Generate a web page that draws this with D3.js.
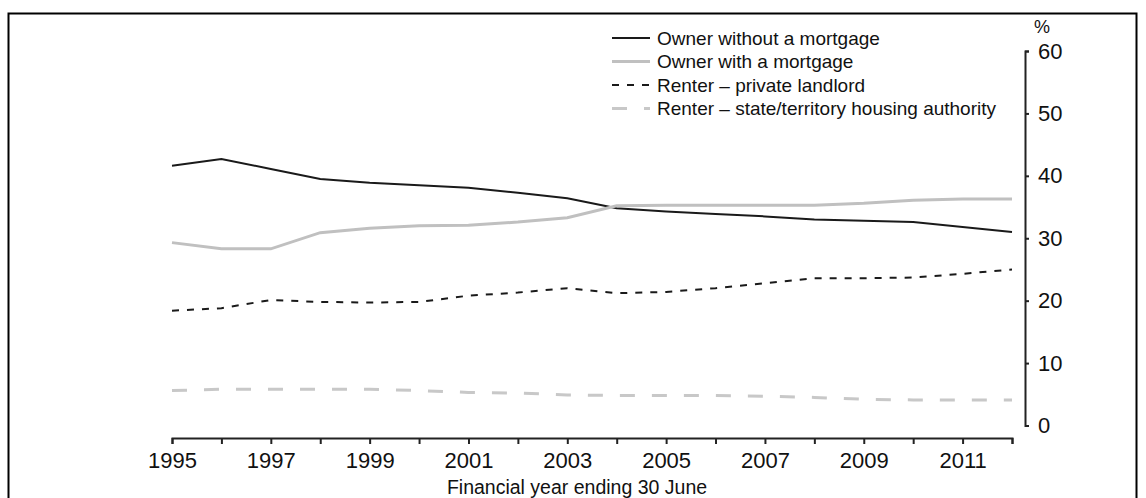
<!DOCTYPE html>
<html>
<head>
<meta charset="utf-8">
<script src="https://cdn.jsdelivr.net/npm/d3@7"></script>
<style>
  html, body { margin: 0; padding: 0; background: #fff; }
  svg { display: block; font-family: "Liberation Sans", Arial, sans-serif; }
</style>
</head>
<body>
<svg id="chart" width="1146" height="498"></svg>
<script>
// ---- data ----
const years = [1995,1996,1997,1998,1999,2000,2001,2002,2003,2004,2005,2006,2007,2008,2009,2010,2011,2012];
const ownerNoMortgage = [41.6,42.7,41.1,39.5,38.9,38.5,38.1,37.3,36.4,34.8,34.3,33.9,33.5,33.0,32.8,32.6,31.8,31.0];
const ownerMortgage   = [29.3,28.3,28.3,30.9,31.6,32.0,32.1,32.6,33.3,35.2,35.3,35.3,35.3,35.3,35.6,36.1,36.3,36.3];
const renterPrivate   = [18.4,18.8,20.1,19.8,19.7,19.8,20.8,21.3,22.0,21.2,21.4,22.0,22.8,23.6,23.6,23.7,24.3,25.0];
const renterState     = [5.6,5.8,5.8,5.8,5.8,5.6,5.3,5.2,4.9,4.8,4.8,4.8,4.7,4.5,4.2,4.1,4.1,4.1];
const seriesNames = [
  "Owner without a mortgage",
  "Owner with a mortgage",
  "Renter \u2013 private landlord",
  "Renter \u2013 state/territory housing authority"
];
const yTicks = [0,10,20,30,40,50,60];
const xTickYears = years;
const xTitle = "Financial year ending 30 June";
const yUnit = "%";

// ---- styles ----
const styles = [
  {stroke: "#1a1a1a", width: 2,   dash: null},
  {stroke: "#c0c0c0", width: 3,   dash: null},
  {stroke: "#1a1a1a", width: 2,   dash: "7,8"},
  {stroke: "#c8c8c8", width: 3,   dash: "15,17"}
];
const seriesValues = [ownerNoMortgage, ownerMortgage, renterPrivate, renterState];

const svg = d3.select("#chart");

// frame
svg.append("rect")
  .attr("x", 8.5).attr("y", 13.5)
  .attr("width", 1128).attr("height", 520)
  .attr("fill", "none").attr("stroke", "#000").attr("stroke-width", 2);

const x = d3.scaleLinear().domain([1995, 2012]).range([172, 1012]);
const y = d3.scaleLinear().domain([0, 60]).range([425.5, 51]);

// x axis
const xAxis = d3.axisBottom(x)
  .tickValues(xTickYears)
  .tickSize(6)
  .tickSizeOuter(6)
  .tickFormat(d => (d % 2 === 1 ? String(d) : ""));
const gx = svg.append("g").attr("transform", "translate(0,438)").call(xAxis);
gx.select(".domain").attr("stroke", "#222").attr("stroke-width", 2);
gx.selectAll(".tick line").attr("stroke", "#222").attr("stroke-width", 2);
gx.selectAll(".tick text")
  .attr("y", 30).attr("dy", 0)
  .attr("fill", "#111")
  .style("font-size", "22px")
  .style("font-family", "'Liberation Sans', Arial, sans-serif");

// y axis (right)
const yAxis = d3.axisRight(y)
  .tickValues(yTicks)
  .tickSize(4)
  .tickSizeOuter(4)
  .tickPadding(9)
  .tickFormat(d3.format("d"));
const gy = svg.append("g").attr("transform", "translate(1025,0)").call(yAxis);
gy.select(".domain").attr("stroke", "#222").attr("stroke-width", 2);
gy.selectAll(".tick line").attr("stroke", "#222").attr("stroke-width", 2);
gy.selectAll(".tick text")
  .attr("fill", "#111")
  .style("font-size", "22px")
  .style("font-family", "'Liberation Sans', Arial, sans-serif");

// unit label
svg.append("text")
  .attr("x", 1042).attr("y", 33)
  .attr("text-anchor", "middle")
  .attr("fill", "#111")
  .style("font-size", "18px")
  .text(yUnit);

// x title
svg.append("text")
  .attr("x", 577).attr("y", 494)
  .attr("text-anchor", "middle")
  .attr("fill", "#111")
  .style("font-size", "19.5px")
  .text(xTitle);

// lines
const line = d3.line()
  .x((d, i) => x(years[i]))
  .y(d => y(d));

seriesValues.forEach((vals, k) => {
  const st = styles[k];
  const p = svg.append("path")
    .datum(vals)
    .attr("d", line)
    .attr("fill", "none")
    .attr("stroke", st.stroke)
    .attr("stroke-width", st.width);
  if (st.dash) p.attr("stroke-dasharray", st.dash);
});

// legend
const legendRowsY = [38, 61.5, 85, 108.5];
const lg = svg.append("g");
seriesNames.forEach((name, k) => {
  const st = styles[k];
  const ly = legendRowsY[k];
  const l = lg.append("line")
    .attr("x1", 612).attr("x2", 650)
    .attr("y1", ly).attr("y2", ly)
    .attr("stroke", st.stroke)
    .attr("stroke-width", st.width);
  if (st.dash) l.attr("stroke-dasharray", st.dash);
  lg.append("text")
    .attr("x", 657).attr("y", ly)
    .attr("dy", "0.35em")
    .attr("fill", "#111")
    .style("font-size", "19px")
    .text(name);
});
</script>
</body>
</html>
